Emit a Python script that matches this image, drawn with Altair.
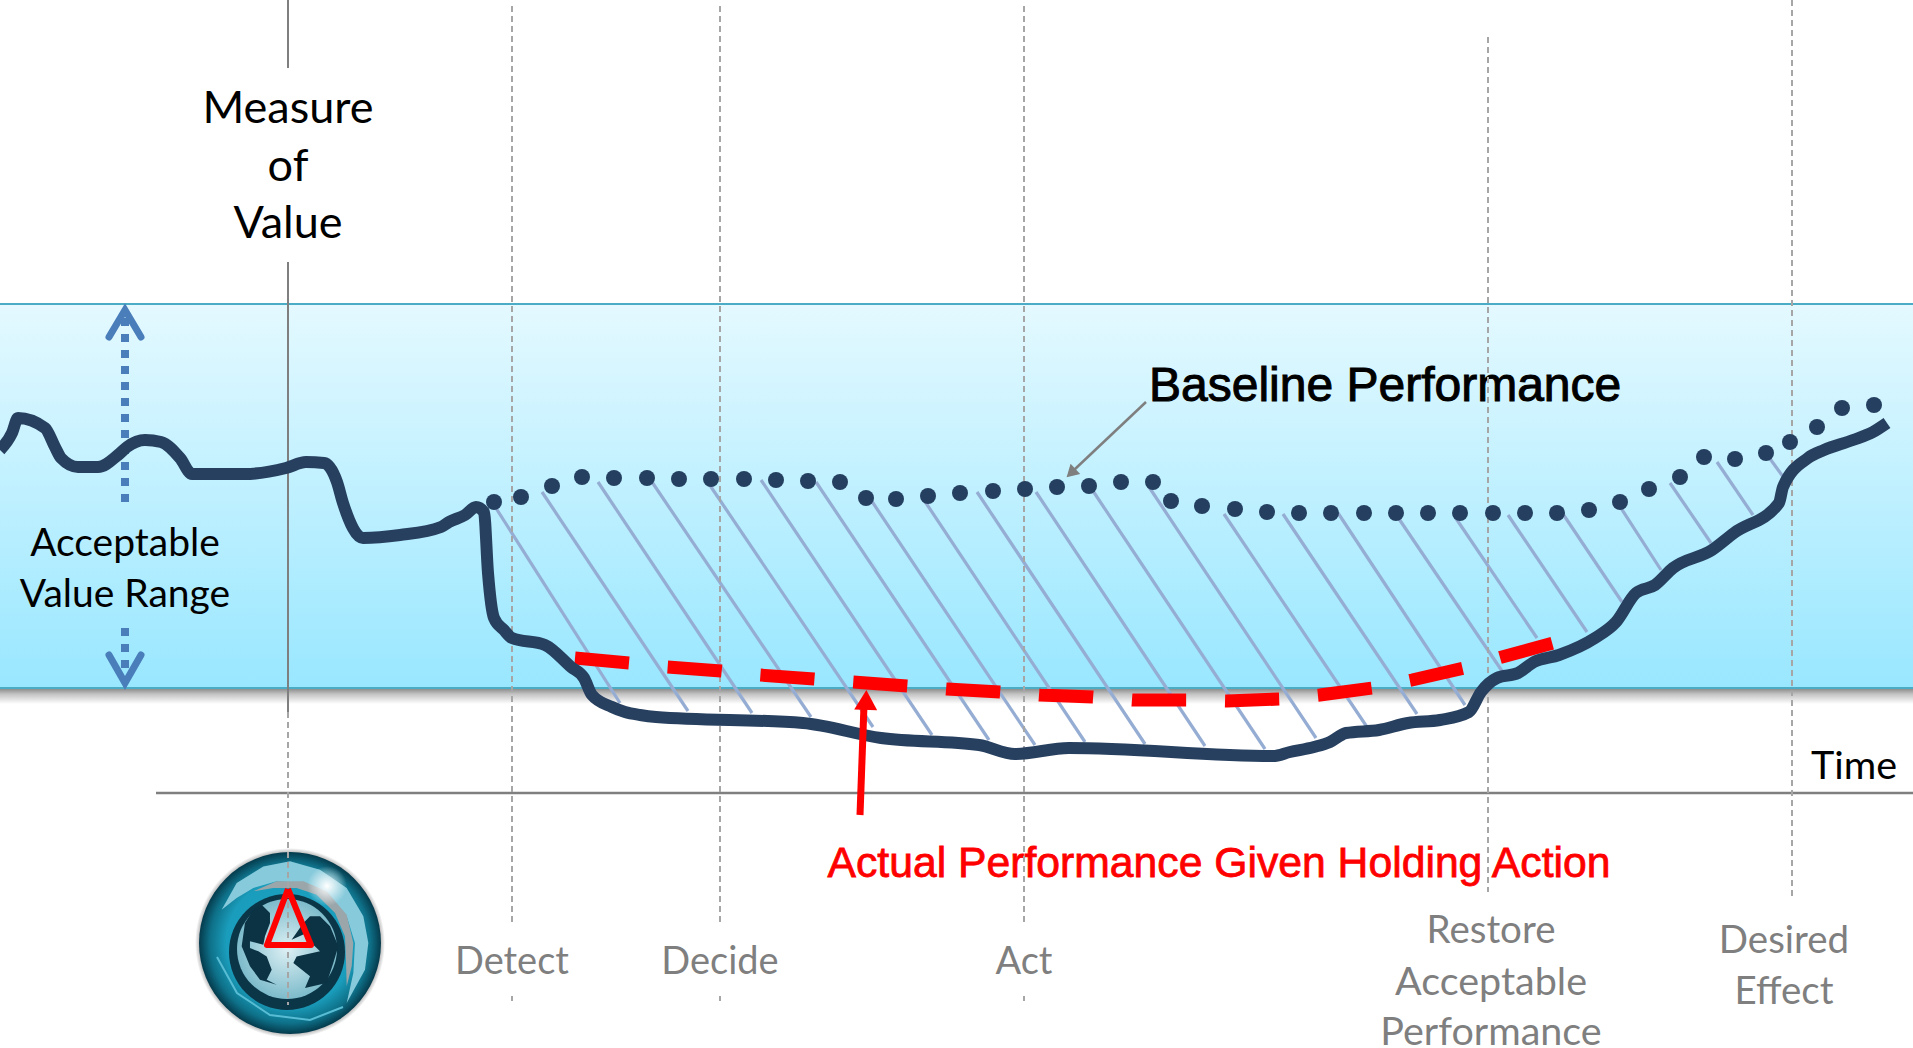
import altair as alt
import pandas as pd

W, H = 1913, 1048

# Actual performance trace
actual_x = [0, 12, 18, 45, 55, 61, 78, 98, 118, 127, 145, 161, 180, 192, 245, 286, 306, 324, 337, 343, 363, 400, 441, 449, 465, 476, 484, 488, 494, 504, 512, 545, 571, 584, 592, 612, 625, 640, 656, 803, 881, 979, 1015, 1069, 1273, 1290, 1314, 1330, 1346, 1379, 1408, 1440, 1469, 1481, 1497, 1518, 1534, 1559, 1595, 1616, 1636, 1655, 1673, 1712, 1734, 1779, 1783, 1808, 1824, 1853, 1873, 1887]
actual_y = [450, 433, 418, 428, 447, 458, 467, 467, 455, 447, 440, 442, 458, 474, 474, 468, 462, 463, 482, 503, 538, 535, 527, 522, 515, 507, 512, 573, 618, 630, 638, 645, 667, 678, 695, 707, 712, 715, 717, 723, 738, 745, 754, 748, 756, 752, 747, 742, 733, 730, 723, 720, 712, 692, 678, 673, 662, 655, 638, 622, 593, 585, 568, 550, 533, 503, 487, 458, 450, 440, 432, 423]

# Baseline performance trace (dotted)
base_x = [494, 521, 552, 582, 614, 647, 679, 711, 744, 776, 808, 840, 866, 896, 928, 960, 993, 1025, 1057, 1089, 1121, 1153, 1171, 1202, 1235, 1267, 1299, 1331, 1364, 1396, 1428, 1460, 1493, 1525, 1557, 1589, 1620, 1649, 1680, 1704, 1735, 1766, 1790, 1817, 1842, 1874]
base_y = [502, 497, 486, 477, 478, 478, 479, 479, 479, 480, 481, 482, 498, 499, 496, 493, 491, 489, 487, 486, 482, 482, 501, 506, 509, 512, 513, 513, 513, 513, 513, 513, 513, 513, 513, 510, 502, 489, 477, 457, 459, 453, 442, 427, 408, 405]

# Hatching between the baseline and the actual trace
hatch_x1 = [494, 542, 598, 652, 707, 761, 816, 869, 922, 977, 1036, 1091, 1149, 1224, 1283, 1338, 1395, 1455, 1508, 1563, 1619, 1670, 1717, 1768]
hatch_y1 = [505, 492, 482, 482, 481, 480, 482, 497, 497, 492, 492, 488, 487, 514, 514, 513, 513, 517, 515, 514, 505, 483, 462, 456]
hatch_x2 = [620, 688, 752, 811, 873, 932, 989, 1035, 1085, 1145, 1205, 1265, 1316, 1367, 1417, 1465, 1502, 1537, 1587, 1622, 1661, 1711, 1753, 1784]
hatch_y2 = [703, 711, 713, 717, 727, 735, 740, 745, 742, 744, 746, 749, 738, 727, 714, 705, 671, 638, 632, 602, 570, 543, 515, 478]

# Performance given the holding action (dashed)
hold_x = [575, 629, 667, 721, 760, 814, 853, 907, 947, 1000, 1040, 1093, 1133, 1187, 1227, 1280, 1320, 1373, 1412, 1464, 1502, 1553]
hold_y = [658, 663, 667, 671, 675, 679, 682, 686, 689, 692, 695, 697, 700, 700, 701, 699, 695, 688, 680, 668, 657, 643]

# Milestone guide lines
guide_x = [512, 720, 1024, 1488, 1792, 512, 720, 1024, 288]
guide_top = [6, 6, 6, 37, 0, 996, 996, 996, 712]
guide_bottom = [923, 923, 923, 892, 897, 1001, 1001, 1001, 1005]

# Text blocks
labels_text = ["Measure", "of", "Value", "Acceptable", "Value Range", "Time"]
labels_x = [288, 288, 288, 125, 125, 1854]
labels_y = [109, 167, 224, 544, 595, 767]
labels_size = [45, 45, 45, 39, 39, 39.5]
milestones_text = ["Detect", "Decide", "Act", "Restore", "Acceptable", "Performance", "Desired", "Effect"]
milestones_x = [512, 720, 1024, 1491, 1491, 1491, 1784, 1784]
milestones_y = [963, 963, 963, 931, 983, 1033, 941, 992]
milestones_size = [38, 38, 38, 38.5, 39.5, 39.5, 38.5, 38.5]

# Globe badge outlines, relative to the badge centre
continent_left = [(275, 255), (300, 280), (300, 310), (285, 350), (280, 375), (240, 365), (240, 385), (265, 395), (290, 410), (305, 450), (290, 480), (320, 495), (270, 480), (240, 440), (215, 380), (225, 310), (250, 270)]
continent_right = [(420, 290), (450, 290), (480, 320), (505, 380), (490, 430), (470, 490), (405, 505), (420, 470), (370, 430), (380, 410), (450, 395), (430, 375), (410, 340), (365, 360), (400, 310)]
crescent_light = [(155, 270), (200, 190), (280, 140), (360, 125), (450, 150), (530, 205), (580, 290), (595, 370), (585, 450), (530, 550), (550, 460), (555, 370), (530, 290), (470, 220), (400, 190), (320, 185), (250, 205), (200, 235)]
crescent_grey = [(250, 215), (320, 185), (400, 185), (470, 215), (530, 285), (550, 370), (545, 440), (530, 500), (528, 420), (525, 350), (495, 280), (440, 225), (380, 205), (310, 205)]
rim_x = [217, 237, 270, 310, 343]
rim_y = [957, 993, 1015, 1020, 1007]

BADGE_X, BADGE_Y = 290, 943
BADGE_R = 91

xs = alt.Scale(domain=[0, W], range=[0, W], nice=False, zero=False)
ys = alt.Scale(domain=[0, H], range=[0, H], nice=False, zero=False)
X = alt.X("x:Q", scale=xs, axis=None)
Y = alt.Y("y:Q", scale=ys, axis=None)


def linear(stops):
    return alt.Gradient(gradient="linear", x1=0, x2=0, y1=0, y2=1,
                        stops=[alt.GradientStop(color=c, offset=o) for o, c in stops])


def radial(stops):
    return alt.Gradient(gradient="radial", x1=0.5, y1=0.5, x2=0.5, y2=0.5, r1=0, r2=0.5,
                        stops=[alt.GradientStop(color=c, offset=o) for o, c in stops])


def band(x1, x2, y1, y2, fill):
    d = pd.DataFrame({"x": [x1], "x2": [x2], "y": [y1], "y2": [y2]})
    return alt.Chart(d).mark_rect(fill=fill, stroke=None).encode(X, alt.X2("x2:Q"), Y, alt.Y2("y2:Q"))


def path(xvals, yvals, **mark):
    d = pd.DataFrame({"x": xvals, "y": yvals, "o": range(len(xvals))})
    return alt.Chart(d).mark_line(**mark).encode(X, Y, order="o:Q")


def rules(x1, y1, x2, y2, **mark):
    d = pd.DataFrame({"x": x1, "y": y1, "x2": x2, "y2": y2})
    return alt.Chart(d).mark_rule(**mark).encode(X, alt.X2("x2:Q"), Y, alt.Y2("y2:Q"))


def words(text, xvals, yvals, sizes, **mark):
    d = pd.DataFrame({"t": text, "x": xvals, "y": yvals, "s": sizes})
    return alt.Chart(d).mark_text(baseline="middle", **mark).encode(
        X, Y, text="t:N", size=alt.Size("s:Q", scale=None, legend=None))


def disc(radius, fill, cx=BADGE_X, cy=BADGE_Y):
    d = pd.DataFrame({"x": [cx], "y": [cy]})
    return alt.Chart(d).mark_circle(size=(2 * radius) ** 2, fill=fill, opacity=1, stroke=None).encode(X, Y)


def outline(points, fill):
    # Badge artwork is drawn as a custom symbol scaled to the badge radius
    cmds = []
    for i, (px, py) in enumerate(points):
        ux = (px - 360) / 3 / BADGE_R
        uy = (py - 370) / 3 / BADGE_R
        cmds.append(("M" if i == 0 else "L") + f"{ux:.3f} {uy:.3f}")
    d = pd.DataFrame({"x": [BADGE_X], "y": [BADGE_Y]})
    return alt.Chart(d).mark_point(shape=" ".join(cmds) + " Z", size=(2 * BADGE_R) ** 2, fill=fill,
                                   filled=True, opacity=1, stroke=None).encode(X, Y)


def head(cx, cy, angle, size, fill):
    d = pd.DataFrame({"x": [cx], "y": [cy]})
    return alt.Chart(d).mark_point(shape="triangle-up", angle=angle, size=size, fill=fill,
                                   filled=True, opacity=1, stroke=None).encode(X, Y)


BODY = "Lato"
ARROW_BLUE = "#4A7EBB"

layers = [
    # Acceptable range band with its drop shadow
    band(0, W, 689, 704, linear([(0, "#8f8f8f"), (0.35, "#c4c4c4"), (1, "#ffffff")])),
    band(0, W, 304, 688, linear([(0, "#E4F9FF"), (1, "#99E7FF")])),
    rules([0, 0], [304, 688], [W, W], [304, 688], color="#4BACC6", strokeWidth=2),
    # Hatching
    rules(hatch_x1, hatch_y1, hatch_x2, hatch_y2, color="#95ADD3", strokeWidth=3.2),
    # Value range arrow
    path([125, 125], [318, 506], color=ARROW_BLUE, strokeWidth=8, strokeDash=[8, 8]),
    path([125, 125], [628, 672], color=ARROW_BLUE, strokeWidth=8, strokeDash=[8, 8]),
    path([109, 125, 141], [337, 310, 337], color=ARROW_BLUE, strokeWidth=7, strokeCap="round", strokeJoin="miter"),
    path([109, 125, 141], [655, 683, 655], color=ARROW_BLUE, strokeWidth=7, strokeCap="round", strokeJoin="miter"),
    # Axes and guides
    rules([288, 288], [0, 262], [288, 288], [68, 712], color="#7F7F7F", strokeWidth=2),
    rules([156], [793], [W], [793], color="#7F7F7F", strokeWidth=2.5),
    # Badge
    disc(95, radial([(0, "#9a9a9a"), (0.93, "#9a9a9a"), (1, "#ffffff")])),
    disc(BADGE_R, radial([(0, "#1DA3C4"), (0.7, "#1A9DBC"), (0.88, "#0E7189"), (1, "#053A4C")])),
    outline(crescent_light, "#86CADB"),
    disc(58, "#0B3648", 287, 952),
    outline(crescent_grey, "#9AA6AA"),
    disc(50, radial([(0, "#DDF0F4"), (1, "#7DBBCB")]), 287, 949),
    outline(continent_left, "#0B3344"),
    outline(continent_right, "#0B3344"),
    disc(20, radial([(0, "rgba(255,255,255,1)"), (1, "rgba(255,255,255,0)")]), 327, 886),
    path(rim_x, rim_y, color="#58BDD4", strokeWidth=2),
    # Text
    words(labels_text, labels_x, labels_y, labels_size, font=BODY, color="#000000", align="center"),
    words(milestones_text, milestones_x, milestones_y, milestones_size, font=BODY, color="#7F7F7F", align="center"),
    words(["Baseline Performance"], [1149], [387], [48], font="Liberation Sans", color="#000000",
          align="left", stroke="#000000", strokeWidth=1),
    words(["Actual Performance Given Holding Action"], [1219], [864], [42.7], font="Liberation Sans",
          color="#FF0000", align="center", stroke="#FF0000", strokeWidth=0.8),
    # Milestone guides sit above the text
    rules(guide_x, guide_top, guide_x, guide_bottom, color="#A6A6A6", strokeWidth=2, strokeDash=[6, 4]),
    # Performance traces
    alt.Chart(pd.DataFrame({"x": base_x, "y": base_y})).mark_circle(size=256, color="#243F60", opacity=1).encode(X, Y),
    path(hold_x, hold_y, color="#FF0000", strokeWidth=13, strokeDash=[54.2, 38.9]),
    path(actual_x, actual_y, color="#274060", strokeWidth=12, strokeJoin="round", interpolate="monotone"),
    # Callout arrows
    rules([1146], [402], [1074], [470], color="#7F7F7F", strokeWidth=2.5),
    head(1071, 473, 226.5, 196, "#7F7F7F"),
    rules([860], [815], [864], [705], color="#FF0000", strokeWidth=7),
    head(866, 700, 2, 529, "#FF0000"),
    # Warning triangle over the badge
    path([288, 267, 311, 288], [889, 945, 945, 889], color="#FF0000", strokeWidth=6, strokeJoin="round"),
]

chart = alt.layer(*layers).properties(
    width=W, height=H, padding=0, autosize=alt.AutoSizeParams(type="none"), background="#FFFFFF"
).configure_view(stroke=None)

chart.save("out.html", embed_options={"renderer": "svg", "actions": False})
